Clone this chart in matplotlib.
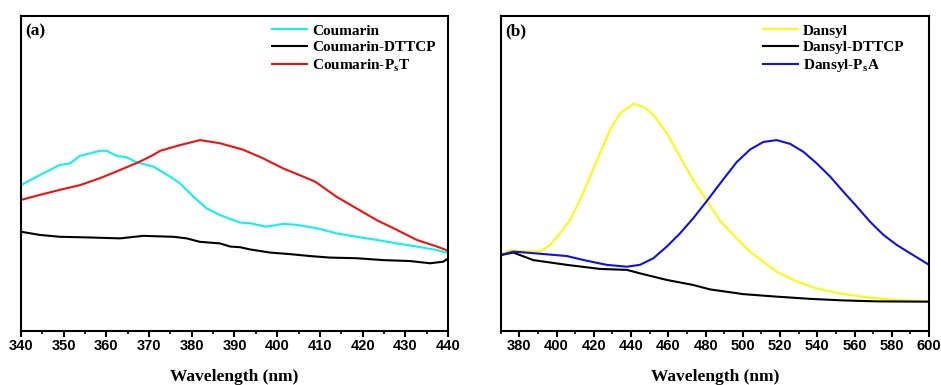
import matplotlib
matplotlib.use("Agg")
import matplotlib.pyplot as plt
from matplotlib.ticker import MultipleLocator

plt.rcParams['mathtext.fontset'] = 'custom'
plt.rcParams['mathtext.bf'] = 'Liberation Serif:bold'
plt.rcParams['mathtext.rm'] = 'Liberation Serif:bold'

# ---- Panel (a) data ----
wl_cy = [340, 344.4, 349.1, 351.5, 353.8, 356.2, 358.5, 360.1, 362.4, 364.8, 367.1, 371, 374.9, 377.2,
         380.4, 383.5, 386.6, 391.3, 393.6, 397.5, 401.4, 404.6, 409.3, 413.9, 418.6, 423.3, 428,
         432.7, 437.4, 440]
coumarin = [46.3, 49.5, 52.7, 53.2, 55.6, 56.4, 57.2, 57.2, 55.6, 55.1, 53.5, 52.2, 49.0, 46.9,
            42.6, 38.9, 36.8, 34.4, 34.2, 33.1, 34.0, 33.7, 32.6, 31.0, 29.9, 28.9, 27.8,
            26.8, 25.7, 24.7]
wl_bka = [340, 344.4, 349.1, 355.7, 363.2, 368.6, 375.7, 378.8, 381.9, 386.6, 389, 391.3, 393.6,
          398.3, 403, 407.6, 412.3, 418.6, 424.8, 431.1, 435.8, 438.9, 440]
coumarin_dttcp = [31.5, 30.5, 29.9, 29.7, 29.4, 30.2, 29.9, 29.4, 28.3, 27.8, 26.8, 26.6, 25.9,
                  24.9, 24.4, 23.8, 23.3, 23.1, 22.5, 22.2, 21.5, 22.0, 23.0]
wl_rd = [340, 344.4, 349.1, 353.8, 358.5, 363.2, 367.9, 371, 372.6, 377.2, 381.9, 386.6, 389.5,
         392.1, 396.7, 401.4, 406.1, 408.9, 413.9, 418.6, 423.3, 428, 432.7, 437.4, 440]
coumarin_pst = [41.6, 43.2, 44.8, 46.3, 48.5, 51.1, 53.8, 55.9, 57.2, 59.0, 60.6, 59.6, 58.5,
                57.5, 54.8, 51.6, 49.0, 47.4, 42.6, 38.9, 35.2, 32.1, 28.9, 26.8, 25.5]

# ---- Panel (b) data ----
wl_ye = [370, 375, 380.4, 391.1, 396.5, 401.8, 407.2, 412.6, 418, 423.3, 428.7, 434.1, 441.2, 446.6,
         452, 459.2, 466.3, 473.4, 480.6, 487.8, 496.7, 503.9, 511, 518.2, 529, 539.7, 554,
         568.3, 582.7, 600]
dansyl = [24.1, 25.7, 25.4, 25.2, 27.3, 31.0, 35.2, 41.6, 49.0, 56.4, 63.8, 69.1, 72.1, 71.2,
          68.6, 62.8, 55.3, 47.9, 41.4, 35.0, 29.4, 25.2, 22.0, 18.8, 15.7, 13.5, 11.7,
          10.6, 9.8, 9.5]
wl_bl = [370, 376.8, 387.5, 405.4, 416.2, 426.9, 437.7, 444.8, 452, 459.2, 466.3, 473.4, 480.6,
         489.6, 496.7, 503.9, 511, 518.2, 525.4, 532.5, 539.7, 546.9, 554, 561.2, 568.3, 575.5,
         582.7, 589.8, 600]
dansyl_psa = [24.1, 25.2, 24.7, 23.8, 22.3, 21.0, 20.4, 21.0, 23.1, 26.8, 31.0, 35.8, 41.2,
              48.2, 53.6, 57.6, 60.0, 60.6, 59.4, 56.9, 53.2, 49.0, 44.2, 39.5, 34.7, 30.5,
              27.3, 24.7, 21.0]
wl_bkb = [370, 376.8, 387.5, 405.4, 423.3, 437.7, 444.8, 459.2, 473.4, 482.4, 500.3, 518.2, 536.1,
          554, 571.9, 600]
dansyl_dttcp = [24.1, 24.9, 22.5, 21.0, 19.7, 19.4, 18.3, 16.2, 14.6, 13.2, 11.7, 10.9, 10.2,
                9.7, 9.4, 9.3]

fig = plt.figure(figsize=(9.41, 3.85), dpi=100)
ax1 = fig.add_axes([0.0223, 0.1403, 0.4538, 0.8182])
ax2 = fig.add_axes([0.5321, 0.1403, 0.4552, 0.8182])

lw = 1.5
ax1.plot(wl_cy, coumarin, color='#10F0F0', lw=lw, label='Coumarin')
ax1.plot(wl_bka, coumarin_dttcp, color='black', lw=lw, label='Coumarin-DTTCP')
ax1.plot(wl_rd, coumarin_pst, color='#F01010', lw=lw, label=r'Coumarin-P$_\mathbf{s}$T')

ax2.plot(wl_ye, dansyl, color='#FAFA10', lw=lw, label='Dansyl')
ax2.plot(wl_bkb, dansyl_dttcp, color='black', lw=lw, label='Dansyl-DTTCP')
ax2.plot(wl_bl, dansyl_psa, color='#1010E0', lw=lw, label=r'Dansyl-P$_\mathbf{s}$A')

ax1.set_xlim(340, 440)
ax2.set_xlim(370, 600)
ax1.xaxis.set_major_locator(MultipleLocator(10))
ax1.xaxis.set_minor_locator(MultipleLocator(5))
ax2.xaxis.set_minor_locator(MultipleLocator(10))
ax2.set_xticks([380, 400, 420, 440, 460, 480, 500, 520, 540, 560, 580, 600])

for ax, tag, lx in [(ax1, '(a)', 0.588), (ax2, '(b)', 0.612)]:
    ax.set_ylim(0, 100)
    ax.set_yticks([])
    for s in ax.spines.values():
        s.set_linewidth(1.5)
    ax.tick_params(axis='x', which='major', direction='out', length=4, width=1.5, pad=2,
                   labelsize=10.5)
    ax.tick_params(axis='x', which='minor', direction='out', length=2.5, width=1.2)
    for lab in ax.get_xticklabels():
        lab.set_fontfamily('Liberation Sans')
        lab.set_fontweight('bold')
    ax.set_xlabel('Wavelength (nm)', fontfamily='Liberation Serif', fontweight='bold',
                  fontsize=12.5, labelpad=11)
    ax.text(0.01, 0.975, tag, transform=ax.transAxes, ha='left', va='top',
            fontfamily='Liberation Serif', fontweight='bold', fontsize=12.5)
    leg = ax.legend(loc='upper left', bbox_to_anchor=(lx, 0.975), frameon=False,
                    prop={'family': 'Liberation Serif', 'weight': 'bold', 'size': 11},
                    handlelength=2.3, handletextpad=0.3, labelspacing=0.2, borderpad=0,
                    borderaxespad=0)

fig.savefig('out.png', dpi=100)
